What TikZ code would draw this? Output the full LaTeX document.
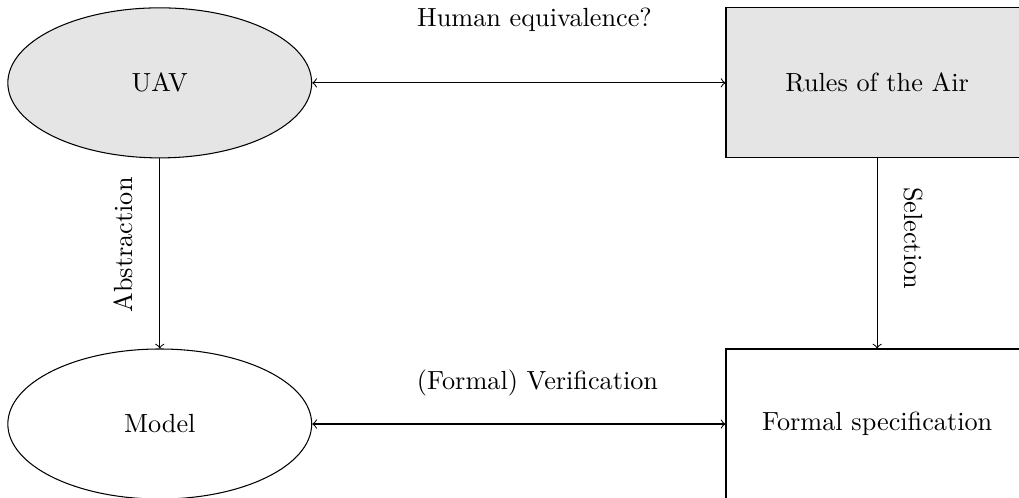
\documentclass[tikz,border=0pt]{standalone}
\usetikzlibrary{shapes.geometric}

\begin{document}
\begin{tikzpicture}[blob/.style = {ellipse,draw,inner sep=0pt, minimum width=4.07cm, minimum height=2.01cm},
  box/.style = {rectangle,draw,inner sep=0pt, minimum width=4.05cm, minimum height=2.01cm},
  grey/.style = {fill=gray!20}]

\useasboundingbox (0,0) rectangle (13.65,-6.67);
\clip (0,0) rectangle (13.65,-6.67);

\node[blob,grey] (uav) at (2.14,-1.11) {UAV};
\node[box,grey] (rules) at (11.75,-1.11) {Rules of the Air};

\node[blob] (model) at (2.14,-5.68) {Model};
\node[box] (spec) at (11.75,-5.68) {Formal specification};

\draw[<->] (uav) -- (rules);
\draw[<->] (model) -- (spec);
\draw[->] (uav) -- (model);
\draw[->] (rules) -- (spec);

\node (human) at (7.16,-0.27) {Human equivalence?};
\node (verif) at (7.20,-5.13) {(Formal) Verification};
\node[rotate=90] (abstr) at (1.65,-3.28) {Abstraction};
\node[rotate=-90] (select) at (12.23,-3.19) {Selection};

\end{tikzpicture}
\end{document}
